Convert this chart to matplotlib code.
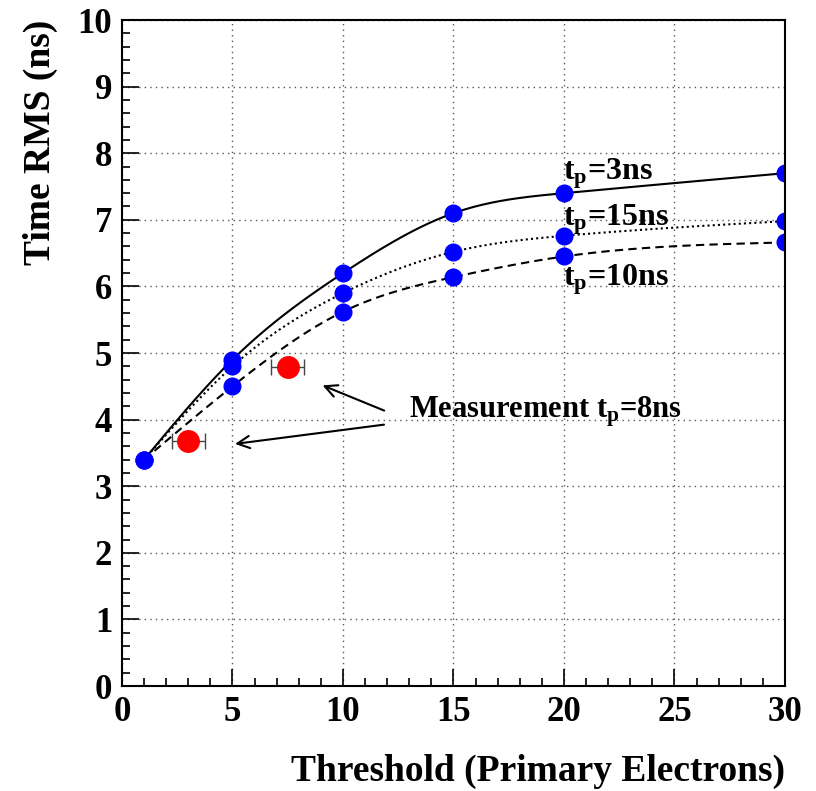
import numpy as np
import matplotlib
matplotlib.use("Agg")
import matplotlib.pyplot as plt
from matplotlib.ticker import MultipleLocator

plt.rcParams["font.family"] = ["Liberation Serif", "DejaVu Serif"]
plt.rcParams["font.weight"] = "bold"
plt.rcParams["mathtext.fontset"] = "custom"
plt.rcParams["mathtext.rm"] = "Liberation Serif:bold"
plt.rcParams["mathtext.it"] = "Liberation Serif:bold"
plt.rcParams["mathtext.bf"] = "Liberation Serif:bold"

# simulated time RMS vs threshold for three peaking times
threshold = [1, 5, 10, 15, 20, 30]
rms_tp3 = [3.4, 4.9, 6.2, 7.1, 7.4, 7.7]
rms_tp15 = [3.4, 4.8, 5.9, 6.52, 6.76, 6.98]
rms_tp10 = [3.4, 4.5, 5.62, 6.14, 6.45, 6.66]

# measured points (t_p = 8 ns)
meas_x = [3.0, 7.5]
meas_y = [3.68, 4.79]
meas_xerr = [0.75, 0.75]


def natural_spline(x, y, n=300):
    # smooth curve through the points (natural cubic spline)
    x = np.asarray(x, float)
    y = np.asarray(y, float)
    k = len(x)
    h = np.diff(x)
    A = np.zeros((k, k))
    b = np.zeros(k)
    A[0, 0] = A[-1, -1] = 1
    for i in range(1, k - 1):
        A[i, i - 1] = h[i - 1]
        A[i, i] = 2 * (h[i - 1] + h[i])
        A[i, i + 1] = h[i]
        b[i] = 3 * ((y[i + 1] - y[i]) / h[i] - (y[i] - y[i - 1]) / h[i - 1])
    c = np.linalg.solve(A, b)
    xs = np.linspace(x[0], x[-1], n)
    idx = np.clip(np.searchsorted(x, xs) - 1, 0, k - 2)
    dx = xs - x[idx]
    hi = h[idx]
    bb = (y[idx + 1] - y[idx]) / hi - hi * (2 * c[idx] + c[idx + 1]) / 3
    dd = (c[idx + 1] - c[idx]) / (3 * hi)
    ys = y[idx] + bb * dx + c[idx] * dx ** 2 + dd * dx ** 3
    return xs, ys


fig = plt.figure(figsize=(8.16, 7.91), dpi=100)
ax = fig.add_axes([0.1495, 0.1327, 0.8125, 0.842])

ax.plot(*natural_spline(threshold, rms_tp3), color="black", lw=1.5, ls="-")
ax.plot(*natural_spline(threshold, rms_tp15), color="black", lw=1.5, ls=(0, (1, 1.5)))
ax.plot(*natural_spline(threshold, rms_tp10), color="black", lw=1.5, ls=(0, (4, 2.5)))

# points at the right edge get cut by the frame
for series in (rms_tp3, rms_tp15, rms_tp10):
    ax.plot(threshold, series, "o", color="#0000ff", ms=12, mec="#0000ff",
            zorder=3)

ax.errorbar(meas_x, meas_y, xerr=meas_xerr, fmt="o", color="#ff0000", ms=15.5,
            ecolor="#444444", elinewidth=1, capsize=6, capthick=1, zorder=4)

# curve labels
ax.text(19.95, 7.61, r"t$_\mathrm{p}$=3ns", fontsize=23, va="baseline")
ax.text(19.95, 6.91, r"t$_\mathrm{p}$=15ns", fontsize=23, va="baseline")
ax.text(19.95, 6.02, r"t$_\mathrm{p}$=10ns", fontsize=23, va="baseline")

ax.text(13.0, 4.03, r"Measurement t$_\mathrm{p}$=8ns", fontsize=22, va="baseline")
arrow = dict(arrowstyle="->", color="black", lw=1.5, mutation_scale=22)
ax.annotate("", xy=(8.96, 4.53), xytext=(11.98, 4.12), arrowprops=arrow)
ax.annotate("", xy=(4.99, 3.63), xytext=(11.98, 3.93), arrowprops=arrow)

ax.set_xlim(0, 30)
ax.set_ylim(0, 10)
ax.xaxis.set_major_locator(MultipleLocator(5))
ax.xaxis.set_minor_locator(MultipleLocator(1))
ax.yaxis.set_major_locator(MultipleLocator(1))
ax.yaxis.set_minor_locator(MultipleLocator(0.2))
ax.tick_params(which="both", direction="in", top=False, right=False,
               labelsize=25, width=1.2)
ax.tick_params(which="major", length=12, pad=7)
ax.tick_params(which="minor", length=6)
for lab in ax.get_xticklabels() + ax.get_yticklabels():
    lab.set_fontweight("bold")
for sp in ax.spines.values():
    sp.set_linewidth(1.5)
    sp.set_zorder(5)

ax.grid(True, which="major", color="#555555", ls=(0, (1, 3)), lw=1)

# axis titles, right/top aligned
fig.text(785 / 816, 1 - 781 / 791, "Threshold (Primary Electrons)", fontsize=27,
         fontweight="bold", ha="right", va="baseline")
fig.text(40 / 816, 1 - 20 / 791, "Time RMS (ns)", fontsize=27, fontweight="bold",
         rotation=90, ha="center", va="top")

fig.savefig("out.png", dpi=100)
